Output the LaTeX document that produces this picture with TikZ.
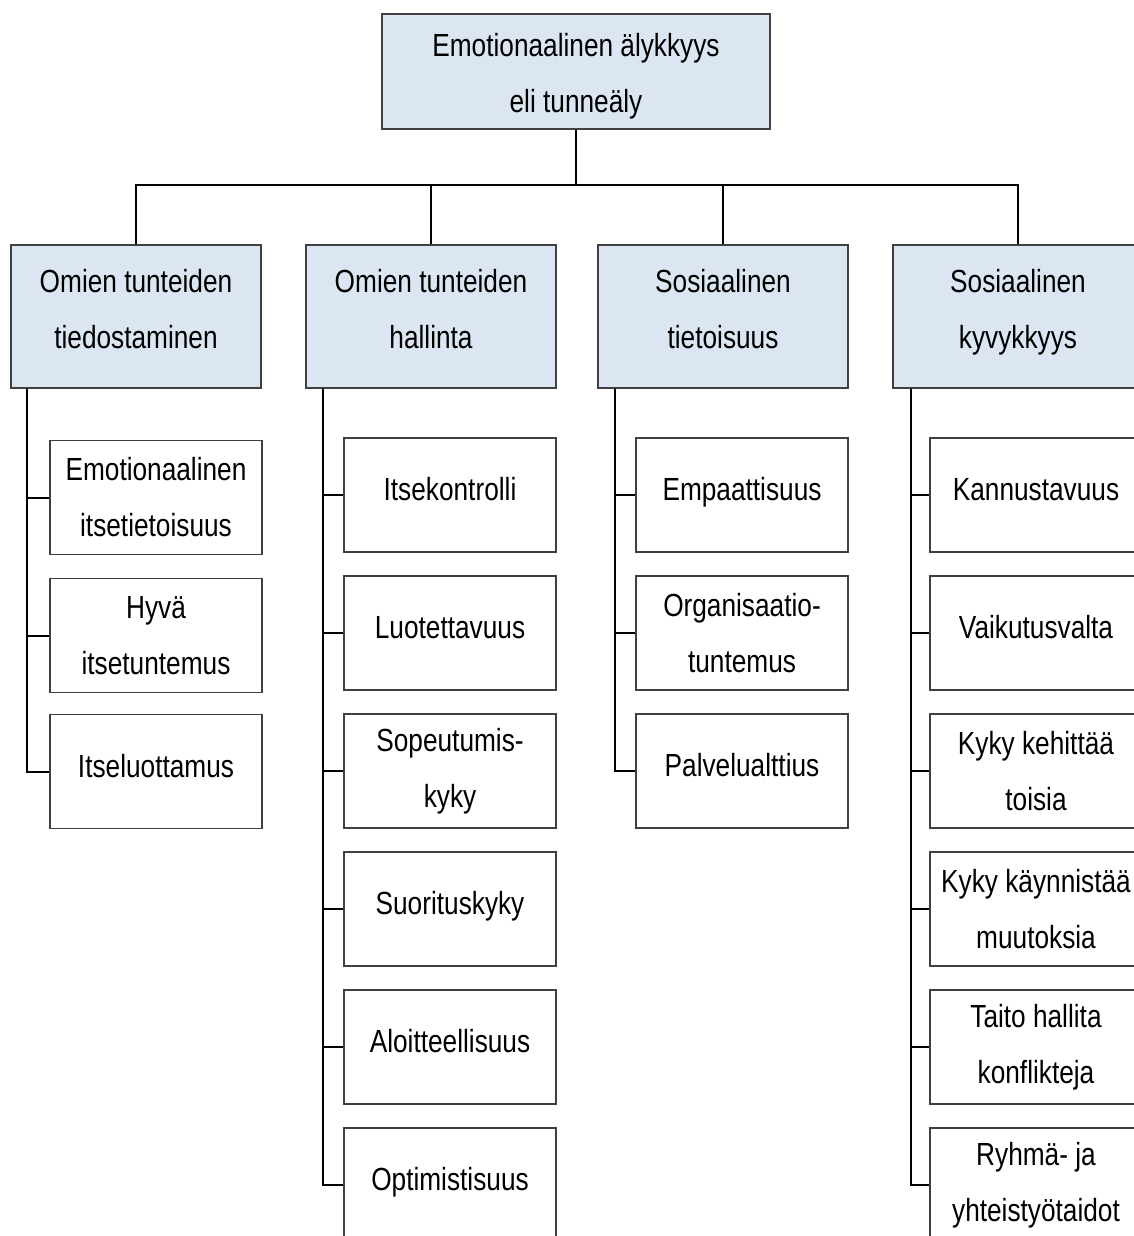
\documentclass[tikz,border=0pt]{standalone}
\usepackage{fontspec}
\setmainfont[FakeStretch=0.82]{Liberation Sans}
\definecolor{vaalea}{HTML}{DCE6F2}
\definecolor{reuna}{HTML}{404040}

\begin{document}
\begin{tikzpicture}[x=1pt,y=-1pt]
\tikzset{laatikko/.style={draw=reuna, line width=1.2pt, fill=white, minimum width=212pt, minimum height=114pt, inner sep=0pt, align=center, font=\fontsize{32}{56}\selectfont}}
\tikzset{yksirivi/.style={execute at end node={\rule[-12pt]{0pt}{0pt}}}}
\tikzset{paalaatikko/.style={laatikko, fill=vaalea, minimum width=250pt, minimum height=143pt}}
\tikzset{taso/.style={paalaatikko, execute at end node={\rule[-16pt]{0pt}{0pt}}}}
\tikzset{yhteys/.style={draw=black, line width=2pt}}
\useasboundingbox (0,0) rectangle (1134,1236);
\clip (0,0) rectangle (1134,1236);
\node[paalaatikko, minimum width=388pt, minimum height=115pt] (T) at (576,71.5) {\rule{0pt}{32pt}Emotionaalinen älykkyys\\eli tunneäly};
\node[taso] (P1) at (136,316.5) {Omien tunteiden\\tiedostaminen};
\node[taso] (P2) at (431,316.5) {Omien tunteiden\\hallinta};
\node[taso] (P3) at (723,316.5) {Sosiaalinen\\tietoisuus};
\node[taso] (P4) at (1018,316.5) {Sosiaalinen\\kyvykkyys};
\node[laatikko] (A1) at (156,497.5) {Emotionaalinen\\itsetietoisuus};
\node[laatikko] (A2) at (156,635.5) {Hyvä\\itsetuntemus};
\node[laatikko, yksirivi] (A3) at (156,771.5) {Itseluottamus};
\node[laatikko, yksirivi] (B1) at (450,495) {Itsekontrolli};
\node[laatikko, yksirivi] (B2) at (450,633) {Luotettavuus};
\node[laatikko] (B3) at (450,771) {Sopeutumis-\\kyky};
\node[laatikko, yksirivi] (B4) at (450,909) {Suorituskyky};
\node[laatikko, yksirivi] (B5) at (450,1047) {Aloitteellisuus};
\node[laatikko, yksirivi] (B6) at (450,1185) {Optimistisuus};
\node[laatikko, yksirivi] (C1) at (742,495) {Empaattisuus};
\node[laatikko] (C2) at (742,633) {Organisaatio-\\tuntemus};
\node[laatikko, yksirivi] (C3) at (742,771) {Palvelualttius};
\node[laatikko, yksirivi] (D1) at (1036,495) {Kannustavuus};
\node[laatikko, yksirivi] (D2) at (1036,633) {Vaikutusvalta};
\node[laatikko] (D3) at (1036,771) {Kyky kehittää\\toisia};
\node[laatikko] (D4) at (1036,909) {Kyky käynnistää\\muutoksia};
\node[laatikko] (D5) at (1036,1047) {Taito hallita\\konflikteja};
\node[laatikko] (D6) at (1036,1185) {Ryhmä- ja\\yhteistyötaidot};
% ylin taso
\draw[yhteys] (T.south) -- ++(0,55) coordinate (V);
\draw[yhteys] (V) -| (P1.north);
\draw[yhteys] (V) -| (P2.north);
\draw[yhteys] (V) -| (P3.north);
\draw[yhteys] (V) -| (P4.north);
% alatasot
\coordinate (S1) at ([xshift=17pt]P1.south west);
\coordinate (S2) at ([xshift=18pt]P2.south west);
\coordinate (S3) at ([xshift=18pt]P3.south west);
\coordinate (S4) at ([xshift=19pt]P4.south west);
\draw[yhteys] (S1) |- (A1.west);
\draw[yhteys] (S1) |- (A2.west);
\draw[yhteys] (S1) |- (A3.west);
\draw[yhteys] (S2) |- (B1.west);
\draw[yhteys] (S2) |- (B2.west);
\draw[yhteys] (S2) |- (B3.west);
\draw[yhteys] (S2) |- (B4.west);
\draw[yhteys] (S2) |- (B5.west);
\draw[yhteys] (S2) |- (B6.west);
\draw[yhteys] (S3) |- (C1.west);
\draw[yhteys] (S3) |- (C2.west);
\draw[yhteys] (S3) |- (C3.west);
\draw[yhteys] (S4) |- (D1.west);
\draw[yhteys] (S4) |- (D2.west);
\draw[yhteys] (S4) |- (D3.west);
\draw[yhteys] (S4) |- (D4.west);
\draw[yhteys] (S4) |- (D5.west);
\draw[yhteys] (S4) |- (D6.west);
\end{tikzpicture}
\end{document}
